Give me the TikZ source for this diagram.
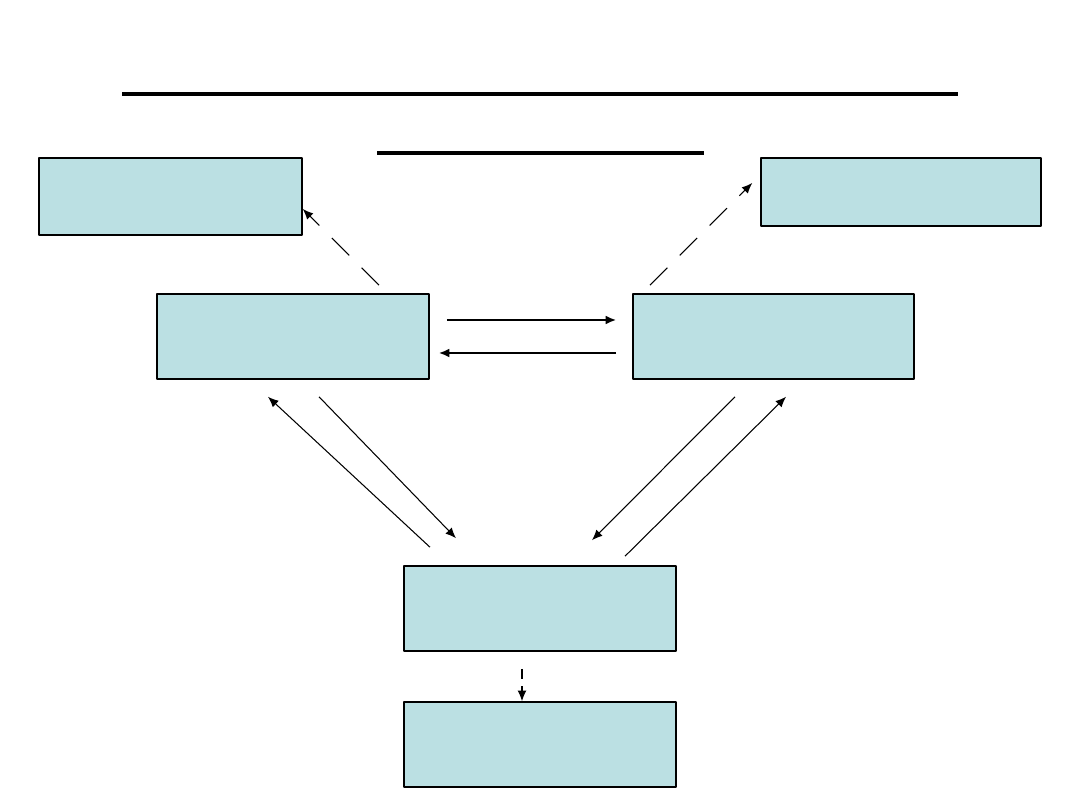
\documentclass[tikz,border=0pt]{standalone}
\usetikzlibrary{calc,arrows.meta}
\definecolor{boxblue}{RGB}{187,224,227}
\tikzset{
	box/.style={draw, line width=0.9pt, fill=boxblue, inner sep=0pt},
	link/.style={-{Latex[length=6pt,width=5pt]}, line width=0.6pt},
	dashlink/.style={link, dash pattern=on 14pt off 10pt},
}
\begin{document}
\begin{tikzpicture}[x=0.02cm, y=-0.02cm, line join=round]
	\useasboundingbox (0,0) rectangle (1080,810);
	\node[box, minimum width=5.26cm, minimum height=1.54cm] (tl)  at (170.5,196.5) {};
	\node[box, minimum width=5.6cm,  minimum height=1.36cm] (tr)  at (901,192) {};
	\node[box, minimum width=5.44cm, minimum height=1.7cm]  (ml)  at (293,336.5) {};
	\node[box, minimum width=5.62cm, minimum height=1.7cm]  (mr)  at (773.5,336.5) {};
	\node[box, minimum width=5.44cm, minimum height=1.7cm]  (mid) at (540,608.5) {};
	\node[box, minimum width=5.44cm, minimum height=1.7cm]  (bot) at (540,744.5) {};
	\coordinate (T1) at (122,94);
	\coordinate (T2) at (958,94);
	\coordinate (S1) at (377,153);
	\coordinate (S2) at (704,153);
	\draw[line width=2pt] (T1) -- (T2) (S1) -- (S2);
	\draw[dashlink] ($(ml.north)+(86,-8)$) -- ($(tl.east)+(0,12.5)$);
	\draw[dashlink] ($(mr.north)+(-123.5,-8)$) -- ($(tr.west)+(-8,-9)$);
	\draw[link, line width=1.1pt] ($(ml.east)+(17,-16.5)$) -- ($(mr.west)+(-16,-16.5)$);
	\draw[link, line width=1.1pt] ($(mr.west)+(-16,16.5)$) -- ($(ml.east)+(9,16.5)$);
	\draw[link] ($(mid.north)+(-110,-18)$) -- ($(ml.south)+(-25,17)$);
	\draw[link] ($(ml.south)+(26,17)$) -- ($(mid.north)+(-84,-27)$);
	\draw[link] ($(mr.south)+(-38.5,17)$) -- ($(mid.north)+(52,-25)$);
	\draw[link] ($(mid.north)+(85,-9)$) -- ($(mr.south)+(12.5,17)$);
	\draw[link, dash pattern=on 6pt off 4pt] ($(mid.south)+(-18,17)$) -- ($(bot.north)+(-18,0)$);
\end{tikzpicture}
\end{document}
